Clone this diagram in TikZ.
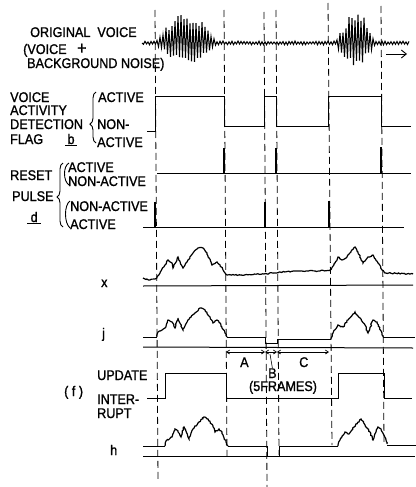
\documentclass[tikz,border=0pt]{standalone}
\usepackage{fontspec}
\setmainfont{Liberation Sans}[FakeStretch=0.9,FakeBold=1.2]
\usetikzlibrary{decorations.pathmorphing,decorations.pathreplacing,arrows.meta}
\begin{document}
\begin{tikzpicture}[x=1pt,y=-1pt,
  declare function={
    bt(\x)=(\x>156)*(\x<216)*31*sin((\x-156)*3)+(\x>336)*(\x<375)*31*sin((\x-336)*4.615);
    bb(\x)=(\x>156)*(\x<216)*19*sin((\x-156)*3)+(\x>336)*(\x<375)*24*sin((\x-336)*4.615);},
  lbl/.style={font=\fontsize{14}{15}\selectfont, inner sep=0pt, anchor=base west},
  guide/.style={line width=0.8pt, dash pattern=on 7pt off 4pt},
  sig/.style={line width=1pt},
  fuzz/.style={line width=1.2pt, decorate, decoration={random steps,segment length=1.5pt,amplitude=0.6pt}},
  pulse/.style={line width=2.8pt},
  brc/.style={line width=0.9pt, decorate},
  dim/.style={line width=0.7pt, {Straight Barb[length=3pt,width=4pt]}-{Straight Barb[length=3pt,width=4pt]}}
]
\useasboundingbox (0,0) rectangle (415,487);
\pgfmathsetseed{7}

% guide lines
\draw[guide] (155,10) -- (158,482);
\draw[guide] (224,10) -- (227,457);
\draw[guide] (264,12) -- (267,487);
\draw[guide] (276,10) -- (279,455);
\draw[guide] (328,3) -- (332,445);
\draw[guide] (381,6) -- (384,445);

% original voice
\draw[line width=1pt] (142,43) \foreach \i in {1,...,178} { -- ({142+1.5*\i},{43-(1-2*mod(\i,2))*(0.8+1.2*rnd+(mod(\i,2)==0)*bt(142+1.5*\i)*(0.55+0.45*rnd)+(mod(\i,2)==1)*bb(142+1.5*\i)*(0.55+0.45*rnd))}) };
\coordinate (ar1) at (386,54);
\coordinate (ar2) at (407,54);
\draw[line width=0.9pt, -{Straight Barb[length=5pt,width=8pt]}] (ar1) -- (ar2);

% labels top
\node[lbl] (l1) at (30,37) {ORIGINAL\ \ VOICE};
\node[lbl] (l2) at (23,54) {(VOICE\ \ \ {\fontsize{18}{18}\selectfont +}};
\node[lbl] (l3) at (27,68) {BACKGROUND NOISE)};

% VAD flag
\node[lbl] (v1) at (10,102) {VOICE};
\node[lbl] (v2) at (10,115) {ACTIVITY};
\node[lbl] (v3) at (10,129) {DETECTION};
\node[lbl] (v4) at (10,144) {FLAG};
\node[lbl] (vb) at (65,144) {\underline{\,b\,}};
\draw[brc, decoration={brace, amplitude=6pt, aspect=0.37}] (96,143) -- (96,92);
\node[lbl] (va1) at (98,102) {ACTIVE};
\node[lbl] (va2) at (97,129) {NON-};
\node[lbl] (va3) at (97,147) {ACTIVE};
\draw[sig] (147,131) -- (155,131) -- (155,96) -- (224,96) -- (224,126) -- (264,126) -- (264,96) -- (276,96) -- (276,126) -- (328,126) -- (328,96) -- (381,96) -- (381,126) -- (411,126);

% reset pulse
\node[lbl] (r1) at (10,180) {RESET};
\node[lbl] (r2) at (12,201) {PULSE};
\node[lbl] (rd) at (27,222) {\underline{\ d\ }};
\draw[brc, decoration={brace, amplitude=6pt, aspect=0.47}] (63,227) -- (63,163);
\draw[line width=0.9pt] (69,163) .. controls (63,166) and (63,181) .. (69,185);
\draw[line width=0.9pt] (70,201) .. controls (64,205) and (64,223) .. (70,228);
\node[lbl] (ra1) at (68,172) {ACTIVE};
\node[lbl] (ra2) at (68,186) {NON-ACTIVE};
\node[lbl] (ra3) at (70,211) {NON-ACTIVE};
\node[lbl] (ra4) at (70,229) {ACTIVE};
\draw[sig] (157,173) -- (411,173);
\draw[pulse] (224,173) -- (224,148);
\draw[pulse] (276,173) -- (276,148);
\draw[pulse] (381,173) -- (381,147);
\draw[sig] (143,227) -- (404,227);
\draw[pulse] (155,227) -- (155,202);
\draw[pulse] (265,227) -- (265,202);
\draw[pulse] (329,227) -- (329,201);

% x
\node[lbl] (nx) at (101,287) {x};
\draw[sig] (143,286) -- (413,285);
\draw[fuzz] (143,278) -- (150,280) -- (155,279) -- (157,277) -- (160,273) -- (165,265) -- (168,260) -- (172,263) -- (173,268) -- (177,260) -- (178,257) -- (182,266) -- (183,268) -- (187,262) -- (193,253) -- (198,248) -- (203,248) -- (207,253) -- (212,265) -- (217,262) -- (220,265) -- (225,273) -- (227,275) -- (240,275) -- (264,274) -- (280,272) -- (300,271) -- (320,271) -- (330,270) -- (335,263) -- (338,257) -- (342,260) -- (347,257) -- (352,250) -- (355,247) -- (358,252) -- (363,263) -- (368,257) -- (373,255) -- (378,263) -- (382,270) -- (385,273) -- (413,274);

% j
\node[lbl] (nj) at (102,338) {j};
\draw[sig] (143,347) -- (413,348);
\draw[sig] (143,337) -- (157,337);
\draw[fuzz] (157,337) -- (158,332) -- (165,328) -- (168,320) -- (172,322) -- (175,328) -- (178,318) -- (182,328) -- (183,330) -- (188,320) -- (195,313) -- (200,308) -- (205,310) -- (210,317) -- (213,323) -- (217,320) -- (220,323) -- (225,333) -- (227,337);
\draw[sig] (227,337) -- (265,337) -- (265,343) -- (277,343) -- (277,339) -- (331,339);
\draw[fuzz] (331,339) -- (333,333) -- (338,325) -- (343,327) -- (348,320) -- (355,312) -- (360,318) -- (365,325) -- (368,333) -- (373,320) -- (377,322) -- (382,333) -- (383,337);
\draw[sig] (383,337) -- (415,337);

% A B C
\coordinate (dA1) at (226,352);
\coordinate (dA2) at (265,352);
\coordinate (dB2) at (277,352);
\coordinate (dC2) at (329,352);
\draw[dim] (dA1) -- (dA2);
\draw[dim] (dA2) -- (dB2);
\draw[dim] (dB2) -- (dC2);
\node[lbl] (tA) at (240,367) {A};
\node[lbl] (tC) at (299,367) {C};
\node[lbl] (tB) at (268,378) {B};
\coordinate (bl) at (270,354);
\draw[line width=0.6pt] (tB.north) -- (bl);
\node[lbl, anchor=base] (t5) at (283,391) {(5FRAMES)};

% f
\node[lbl] (fu) at (97,380) {UPDATE};
\node[lbl] (ff) at (64,396) {(\ f\ )};
\node[lbl] (fi1) at (97,404) {INTER-};
\node[lbl] (fi2) at (97,418) {RUPT};
\draw[sig] (147,398) -- (165,398) -- (165,373) -- (226,373) -- (226,398) -- (338,398) -- (338,373) -- (384,373) -- (384,398) -- (412,398);

% h
\node[lbl] (nh) at (110,455) {h};
\draw[sig] (143,456) -- (415,456);
\draw[sig] (143,446) -- (165,446);
\draw[fuzz] (165,446) -- (166,441) -- (172,437) -- (175,429) -- (178,431) -- (181,437) -- (184,427) -- (188,437) -- (189,439) -- (193,429) -- (199,422) -- (204,417) -- (208,419) -- (213,426) -- (215,432) -- (219,429) -- (222,432) -- (226,442) -- (228,446);
\draw[sig] (228,446) -- (267,446) -- (267,456) -- (279,456) -- (279,446) -- (338,446);
\draw[fuzz] (338,446) -- (340,440) -- (345,432) -- (349,434) -- (354,427) -- (361,419) -- (365,425) -- (370,432) -- (373,440) -- (378,427) -- (381,429) -- (386,440) -- (387,444);
\draw[sig] (387,445) -- (417,445);
\end{tikzpicture}
\end{document}
